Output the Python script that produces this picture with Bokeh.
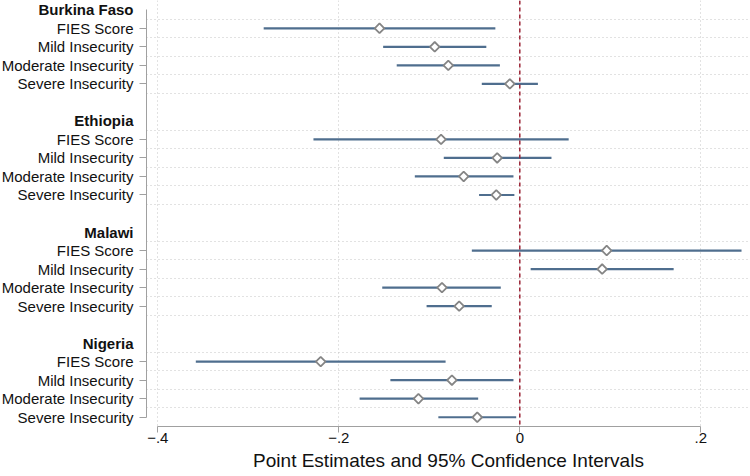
import numpy as np
from bokeh.plotting import figure
from bokeh.layouts import row
from bokeh.models import (ColumnDataSource, Range1d, FixedTicker, Span)
from bokeh.core.properties import value
from bokeh.embed import file_html
from bokeh.resources import INLINE

# ---------------- data ----------------
countries = ["Burkina Faso", "Ethiopia", "Malawi", "Nigeria"]
outcomes = ["FIES Score", "Mild Insecurity", "Moderate Insecurity", "Severe Insecurity"]

bf_est = [-0.155, -0.094, -0.079, -0.011]
bf_lo = [-0.283, -0.151, -0.136, -0.042]
bf_hi = [-0.027, -0.037, -0.022, 0.020]

et_est = [-0.087, -0.025, -0.062, -0.026]
et_lo = [-0.228, -0.084, -0.116, -0.045]
et_hi = [0.054, 0.035, -0.007, -0.006]

mw_est = [0.096, 0.091, -0.086, -0.067]
mw_lo = [-0.053, 0.012, -0.152, -0.103]
mw_hi = [0.245, 0.170, -0.021, -0.031]

ng_est = [-0.220, -0.075, -0.112, -0.047]
ng_lo = [-0.358, -0.143, -0.177, -0.090]
ng_hi = [-0.082, -0.007, -0.046, -0.004]

x_ticks = [-0.4, -0.2, 0.0, 0.2]
x_tick_labels = ["\u2212.4", "\u2212.2", "0", ".2"]
x_title = "Point Estimates and 95% Confidence Intervals"
ref_value = 0.0

est_all = [bf_est, et_est, mw_est, ng_est]
lo_all = [bf_lo, et_lo, mw_lo, ng_lo]
hi_all = [bf_hi, et_hi, mw_hi, ng_hi]

# ---------------- row positions ----------------
rows_per_group = len(outcomes) + 2
ys, ests, los, his, item_text = [], [], [], [], []
header_rows = []
grid_rows = []
for g, c in enumerate(countries):
    base = g * rows_per_group
    header_rows.append(base)
    grid_rows.append(base + 0.5)
    for i, o in enumerate(outcomes):
        y = base + 1 + i
        ys.append(y)
        ests.append(est_all[g][i])
        los.append(lo_all[g][i])
        his.append(hi_all[g][i])
        item_text.append(o)
        grid_rows.append(y + 0.5)

src = ColumnDataSource(dict(y=ys, est=ests, lo=los, hi=his))

FONT = "Liberation Sans"
TXT = "#111111"
AX = "#a0a0a0"
W = 750
H = 476
BOTTOM = 50
LEFT_W = 134
MAIN_W = W - LEFT_W
MAIN_LEFT = 12
PX_PER_UNIT = 905

x_start = -0.4 - 11.3 / PX_PER_UNIT
x_end = x_start + (MAIN_W - MAIN_LEFT) / PX_PER_UNIT
yr = Range1d(max(ys) + 0.5, -0.5)

# ---------------- main plot ----------------
p = figure(width=MAIN_W, height=H, output_backend="svg", toolbar_location=None,
           x_range=Range1d(x_start, x_end), y_range=yr,
           min_border_left=MAIN_LEFT, min_border_right=0, min_border_top=0,
           min_border_bottom=BOTTOM)
p.outline_line_color = None
p.background_fill_color = "white"
p.border_fill_color = "white"

p.xgrid.ticker = FixedTicker(ticks=x_ticks)
p.xgrid.grid_line_color = "#c4c4c4"
p.xgrid.grid_line_dash = "1 3"
p.ygrid.ticker = FixedTicker(ticks=grid_rows)
p.ygrid.grid_line_color = "#c4c4c4"
p.ygrid.grid_line_dash = "1 3"

xa = p.xaxis[0]
xa.ticker = FixedTicker(ticks=x_ticks)
xa.major_label_overrides = {t: l for t, l in zip(x_ticks, x_tick_labels)}
xa.bounds = (min(x_ticks), max(x_ticks))
xa.minor_tick_line_color = None
xa.major_tick_in = 0
xa.major_tick_out = 6
xa.axis_line_color = AX
xa.major_tick_line_color = AX
xa.major_label_text_font = FONT
xa.major_label_text_font_size = "15px"
xa.major_label_text_color = TXT
xa.major_label_standoff = 0
xa.axis_label = x_title
xa.axis_label_text_font = FONT
xa.axis_label_text_font_size = "19px"
xa.axis_label_text_font_style = "normal"
xa.axis_label_text_color = TXT
xa.axis_label_standoff = 4

ya = p.yaxis[0]
ya.ticker = FixedTicker(ticks=ys)
ya.major_label_overrides = {y: "" for y in ys}
ya.major_label_text_font_size = "1px"
ya.major_label_standoff = 0
ya.bounds = (min(header_rows), max(ys))
ya.minor_tick_line_color = None
ya.major_tick_in = 0
ya.major_tick_out = 7
ya.axis_line_color = AX
ya.major_tick_line_color = AX

p.add_layout(Span(location=ref_value, dimension="height", line_color="#9b2335",
                  line_dash="4 3", line_width=1.5))

p.segment(x0="lo", x1="hi", y0="y", y1="y", source=src,
          line_color="#4f6e8e", line_width=2.2)
p.scatter(x="est", y="y", source=src, marker="square", angle=np.pi / 4,
          size=6.8, fill_color="white", line_color="#858585", line_width=1.8)

# ---------------- label column ----------------
lab = figure(width=LEFT_W, height=H, output_backend="svg", toolbar_location=None,
             x_range=Range1d(0, 1), y_range=yr,
             x_axis_location=None, y_axis_location=None,
             min_border_left=0, min_border_right=0, min_border_top=0,
             min_border_bottom=BOTTOM)
lab.outline_line_color = None
lab.grid.visible = False
lab.background_fill_color = "white"
lab.border_fill_color = "white"

lab.text(x=[1] * len(ys), y=ys, text=item_text, text_align="right", x_offset=-1,
         text_baseline="middle", text_font=value(FONT), text_font_size="15px",
         text_color=TXT)
lab.text(x=[1] * len(header_rows), y=header_rows, text=countries, text_align="right",
         x_offset=-1, text_baseline="middle", text_font=value(FONT),
         text_font_size="15px", text_font_style="bold", text_color=TXT)

layout = row(lab, p)
open("out.html", "w").write(file_html(layout, INLINE))
